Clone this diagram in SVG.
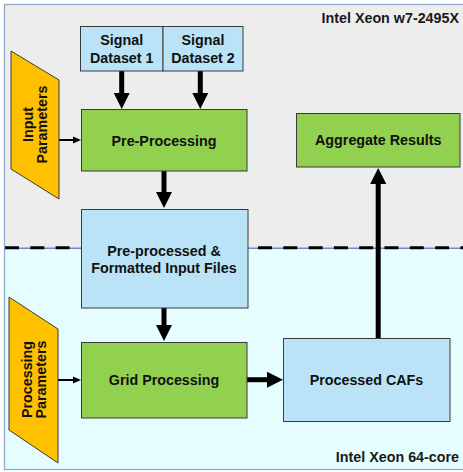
<svg xmlns="http://www.w3.org/2000/svg" width="463" height="472" viewBox="0 0 463 472">
<style>
.lbl{font-family:"Liberation Sans",Arial,sans-serif;font-weight:bold;font-size:14.3px;fill:#111;text-anchor:middle}
.host{font-family:"Liberation Sans",Arial,sans-serif;font-weight:bold;font-size:14.3px;fill:#1a1a1a;text-anchor:end}
.blue{fill:#bae3f7;stroke:#3a3a3a;stroke-width:1}
.green{fill:#92d050;stroke:#3a3a3a;stroke-width:1}
.orange{fill:#ffc000;stroke:#3a3a3a;stroke-width:1}
.thick{stroke:#000;stroke-width:5;fill:none}
.thin{stroke:#000;stroke-width:2;fill:none}
</style>
<defs>
<marker id="bigHead" markerUnits="userSpaceOnUse" markerWidth="16" markerHeight="16" refX="0" refY="8" orient="auto">
<path d="M0,0 L16,8 L0,16 z" fill="#000"/>
</marker>
<marker id="smallHead" markerUnits="userSpaceOnUse" markerWidth="8" markerHeight="8" refX="0" refY="4" orient="auto">
<path d="M0,0.5 L8,4 L0,7.5 z" fill="#000"/>
</marker>
</defs>
<g id="background">
<rect x="4.5" y="4.5" width="462" height="244" fill="#ededed"/>
<rect x="4.5" y="248" width="462" height="221.5" fill="#e6fdff"/>
<line x1="4.5" y1="248.3" x2="466" y2="248.3" stroke="#6f8fc4" stroke-width="1.5"/>
<line x1="5" y1="247.8" x2="466" y2="247.8" stroke="#000" stroke-width="3" stroke-dasharray="14 11.3"/>
<rect x="4.5" y="4.5" width="462" height="465" fill="none" stroke="#8ea9c9" stroke-width="1.3"/>
<text class="host" x="459" y="23">Intel Xeon w7-2495X</text>
<text class="host" x="459" y="461.5">Intel Xeon 64-core</text>
</g>
<g id="connectors">
<line class="thick" x1="121.7" y1="71" x2="121.7" y2="93" marker-end="url(#bigHead)"/>
<line class="thick" x1="200.3" y1="71" x2="200.3" y2="93" marker-end="url(#bigHead)"/>
<line class="thin" x1="59" y1="140" x2="73" y2="140" marker-end="url(#smallHead)"/>
<line class="thick" x1="164" y1="171" x2="164" y2="192" marker-end="url(#bigHead)"/>
<line class="thick" x1="164" y1="308" x2="164" y2="325" marker-end="url(#bigHead)"/>
<line class="thin" x1="58" y1="380" x2="73" y2="380" marker-end="url(#smallHead)"/>
<line class="thick" x1="247" y1="379.7" x2="267" y2="379.7" marker-end="url(#bigHead)"/>
<line class="thick" x1="378.2" y1="338" x2="378.2" y2="184" marker-end="url(#bigHead)"/>
</g>
<g id="signal-dataset-1">
<rect class="blue" x="80.5" y="26.5" width="82.5" height="44.5"/>
<text class="lbl" x="121.7" y="45">Signal</text>
<text class="lbl" x="121.7" y="63">Dataset 1</text>
</g>
<g id="signal-dataset-2">
<rect class="blue" x="163" y="26.5" width="80" height="44.5"/>
<text class="lbl" x="203" y="45">Signal</text>
<text class="lbl" x="203" y="63">Dataset 2</text>
</g>
<g id="input-parameters">
<polygon class="orange" points="11,51 59,80 59,199 11,169"/>
<g transform="translate(0,124.5) rotate(-90)">
<text class="lbl" x="0" y="33">Input</text>
<text class="lbl" x="0" y="47">Parameters</text>
</g>
</g>
<g id="pre-processing">
<rect class="green" x="81.5" y="109.5" width="165.5" height="61.5"/>
<text class="lbl" x="164" y="145.5">Pre-Processing</text>
</g>
<g id="aggregate-results">
<rect class="green" x="296.5" y="113.5" width="163.5" height="53.5"/>
<text class="lbl" x="378.2" y="145">Aggregate Results</text>
</g>
<g id="pre-processed-files">
<rect class="blue" x="81.5" y="209.5" width="166.5" height="98.5"/>
<text class="lbl" x="164" y="255.5">Pre-processed &amp;</text>
<text class="lbl" x="164" y="272.5">Formatted Input Files</text>
</g>
<g id="processing-parameters">
<polygon class="orange" points="9,297 58,329 58,463 9,430"/>
<g transform="translate(0,379.5) rotate(-90)">
<text class="lbl" x="0" y="31.5">Processing</text>
<text class="lbl" x="0" y="46">Parameters</text>
</g>
</g>
<g id="grid-processing">
<rect class="green" x="81.5" y="342.5" width="165.5" height="75.5"/>
<text class="lbl" x="164" y="384.5">Grid Processing</text>
</g>
<g id="processed-cafs">
<rect class="blue" x="283.5" y="338.5" width="166.5" height="83"/>
<text class="lbl" x="366.5" y="384.5">Processed CAFs</text>
</g>
</svg>
